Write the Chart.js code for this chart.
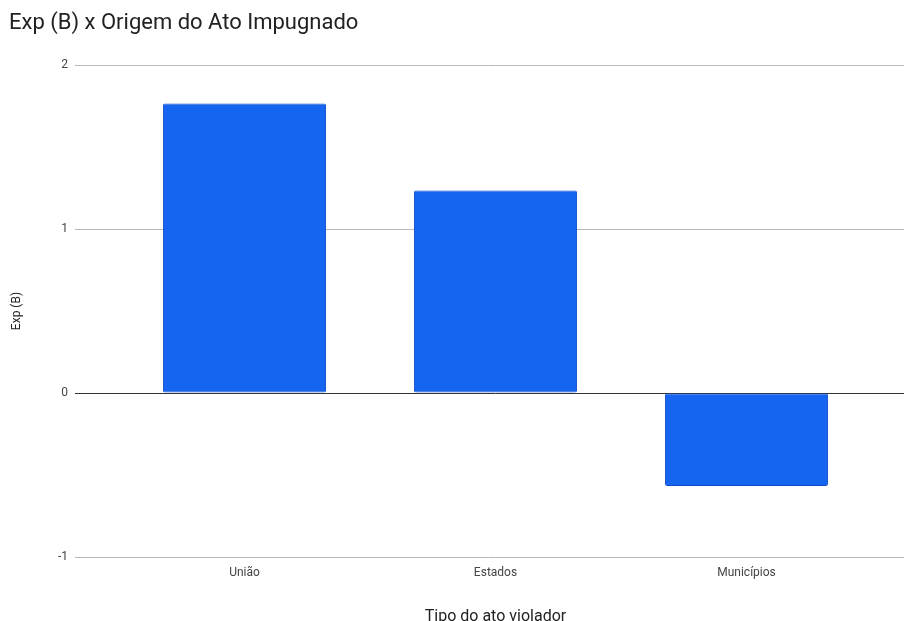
<!DOCTYPE html>
<html>
<head>
<meta charset="utf-8">
<title>Exp (B) x Origem do Ato Impugnado</title>
<script src="https://cdn.jsdelivr.net/npm/chart.js@4/dist/chart.umd.min.js"></script>
<style>
  html, body { margin: 0; padding: 0; background: #ffffff; }
  #wrap { width: 904px; height: 621px; position: relative; overflow: hidden; }
</style>
</head>
<body>
<div id="wrap"><canvas id="chart"></canvas></div>
<script>
// Categories and values
const categories = ['União', 'Estados', 'Municípios'];
const expB = [1.766, 1.235, -0.567];
const yTicks = [-1, 0, 1, 2];

const chartTitle = 'Exp (B) x Origem do Ato Impugnado';
const xTitle = 'Tipo do ato violador';
const yTitle = 'Exp (B)';

const FONT = 'Roboto';
// zero line darker than the other gridlines
const gridColor = ctx => (ctx.tick && ctx.tick.value === 0) ? '#333333' : '#b9b9b9';

new Chart(document.getElementById('chart'), {
  type: 'bar',
  data: {
    labels: categories,
    datasets: [{
      label: yTitle,
      data: expB,
      backgroundColor: '#1565f0',
      borderColor: '#0d4cc6',
      borderWidth: 1,
      borderRadius: 2,
      borderSkipped: false,
      barPercentage: 0.65,
      categoryPercentage: 1
    }]
  },
  options: {
    responsive: true,
    maintainAspectRatio: false,
    animation: false,
    layout: { padding: { left: 9, right: 0, top: 0, bottom: -6 } },
    plugins: {
      legend: { display: false },
      tooltip: { enabled: false },
      title: {
        display: true,
        text: chartTitle,
        align: 'start',
        color: '#222222',
        font: { family: FONT, size: 22, weight: 'normal' },
        padding: { top: 10, bottom: 28.6 }
      }
    },
    scales: {
      x: {
        grid: { display: false, drawTicks: false },
        border: { display: false },
        ticks: {
          color: '#444444',
          font: { family: FONT, size: 12 },
          padding: 9,
          maxRotation: 0
        },
        title: {
          display: true,
          text: xTitle,
          color: '#222222',
          font: { family: FONT, size: 16 },
          padding: { top: 0, bottom: 0 }
        },
        afterFit(scale) { scale.height = 70; }
      },
      y: {
        min: -1,
        max: 2,
        afterBuildTicks(scale) { scale.ticks = yTicks.map(v => ({ value: v })); },
        grid: {
          color: gridColor,
          tickColor: gridColor,
          tickLength: 44,
          lineWidth: 1
        },
        border: { display: false },
        ticks: {
          color: '#444444',
          font: { family: FONT, size: 12 },
          padding: 7
        },
        title: {
          display: true,
          text: yTitle,
          color: '#222222',
          font: { family: FONT, size: 12 },
          padding: { top: 1, bottom: 0 }
        },
        afterFit(scale) { scale.width = 110; }
      },
      yRight: {
        position: 'right',
        min: -1,
        max: 2,
        afterBuildTicks(scale) { scale.ticks = yTicks.map(v => ({ value: v })); },
        grid: {
          drawOnChartArea: false,
          color: gridColor,
          tickColor: gridColor,
          tickLength: 32
        },
        border: { display: false },
        ticks: { display: false },
        afterFit(scale) { scale.width = 32; }
      }
    }
  }
});
</script>
</body>
</html>
